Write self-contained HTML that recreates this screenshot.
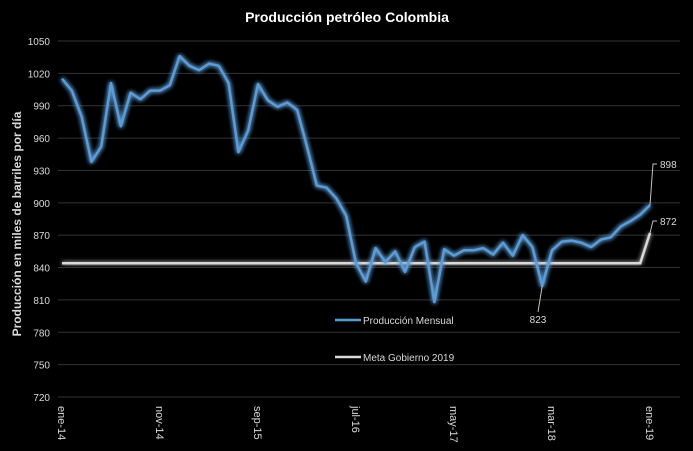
<!DOCTYPE html>
<html><head><meta charset="utf-8"><style>
html,body{margin:0;padding:0;background:#000;}
svg{display:block;font-family:"Liberation Sans",sans-serif;}
</style></head><body>
<svg id="chart" width="693" height="451" viewBox="0 0 693 451" xmlns="http://www.w3.org/2000/svg">
<defs>
<filter id="glow" x="-10%" y="-10%" width="120%" height="120%">
<feGaussianBlur stdDeviation="2.5" result="b"/>
<feMerge><feMergeNode in="b"/><feMergeNode in="b"/><feMergeNode in="SourceGraphic"/></feMerge>
</filter>
<filter id="glow2" x="-10%" y="-10%" width="120%" height="120%">
<feGaussianBlur stdDeviation="2" result="b"/>
<feMerge><feMergeNode in="b"/><feMergeNode in="SourceGraphic"/></feMerge>
</filter>
</defs>
<rect width="693" height="451" fill="#000"/>
<text x="347" y="22" text-anchor="middle" fill="#fff" font-size="14" font-weight="bold">Producción petróleo Colombia</text>
<text transform="translate(21,224) rotate(-90)" text-anchor="middle" fill="#d9d9d9" font-size="12" font-weight="bold">Producción en miles de barriles por día</text>
<g id="grid"></g><g id="yt"></g><g id="xt"></g><g id="series"></g><g id="labels"></g>
<g>
<line x1="335" y1="320" x2="361" y2="320" stroke="#5b9bd5" stroke-width="2.5"/>
<text x="363" y="324" fill="#d9d9d9" font-size="10">Producción Mensual</text>
<line x1="335" y1="357" x2="361" y2="357" stroke="#d9d9d9" stroke-width="2.5"/>
<text x="363" y="361" fill="#d9d9d9" font-size="10">Meta Gobierno 2019</text>
</g>
</svg>
<script>
const production=[1015,1004,980,938,952,1011,971,1002,996,1004,1004,1009,1036,1027,1023,1029,1027,1011,947,967,1010,995,989,993,986,952,916,914,904,888,844,827,858,845,855,836,859,864,808,857,851,856,856,858,852,863,851,870,859,823,856,864,865,863,859,866,868,878,883,889,898];
const meta=[];for(let i=0;i<60;i++)meta.push(844);meta.push(872);
const yTicks=[1050,1020,990,960,930,900,870,840,810,780,750,720];
const xLabels=["ene-14","nov-14","sep-15","jul-16","may-17","mar-18","ene-19"];
const xLabelIdx=[0,10,20,30,40,50,60];
const NS="http://www.w3.org/2000/svg";
const X0=62,DX=9.8,Y0=397,YTOP=41;
const x=i=>X0+i*DX;
const y=v=>Y0-(v-720)/(1050-720)*(Y0-YTOP);
function el(t,a,p){const e=document.createElementNS(NS,t);for(const k in a)e.setAttribute(k,a[k]);document.getElementById(p).appendChild(e);return e;}
yTicks.forEach(v=>{
 const g=el('line',{x1:58,x2:680,y1:y(v),y2:y(v),stroke:'#333',"stroke-width":1},'grid');
 
 
 const t=el('text',{x:50,y:y(v)+4,"text-anchor":"end",fill:"#d9d9d9","font-size":10},'yt');t.textContent=v;
 
 
});
xLabels.forEach((s,k)=>{
 const xx=x(xLabelIdx[k]);
 const t=el('text',{transform:`translate(${xx-4},406) rotate(90)`,fill:"#d9d9d9","font-size":11},'xt');t.textContent=s;
 
 
});
const pm=meta.map((v,i)=>x(i)+','+y(v)).join(' ');
const lm=el('polyline',{points:pm,fill:'none',stroke:'#d9d9d9',"stroke-width":2.5,filter:'url(#glow2)'},'series');


const pp=production.map((v,i)=>x(i)+','+y(v)).join(' ');
const lp=el('polyline',{points:pp,fill:'none',stroke:'#5b9bd5',"stroke-width":2.5,"stroke-linejoin":"round",filter:'url(#glow)'},'series');


function callout(i,v,lx,ly,leftAnchor,name){
 const ln=el('polyline',{points:`${x(i)},${y(v)} ${lx},${ly} ${lx+(leftAnchor?4:0)},${ly}`,fill:'none',stroke:'#bfbfbf',"stroke-width":1},'labels');
 
 
 const t=el('text',{x:leftAnchor?lx+7:lx,y:ly+(leftAnchor?4:11),"text-anchor":leftAnchor?"start":"middle",fill:"#d9d9d9","font-size":10},'labels');
 t.textContent=v;
 
 
}
const last=production.length-1;
callout(last,production[last],653,164,true,'label-last-production');
callout(last,meta[last],653,221,true,'label-last-meta');
let mi=41;for(let i=41;i<production.length;i++){if(production[i]<production[mi])mi=i;}
callout(mi,production[mi],538,312,false,'label-min-production');
</script>
</body></html>
